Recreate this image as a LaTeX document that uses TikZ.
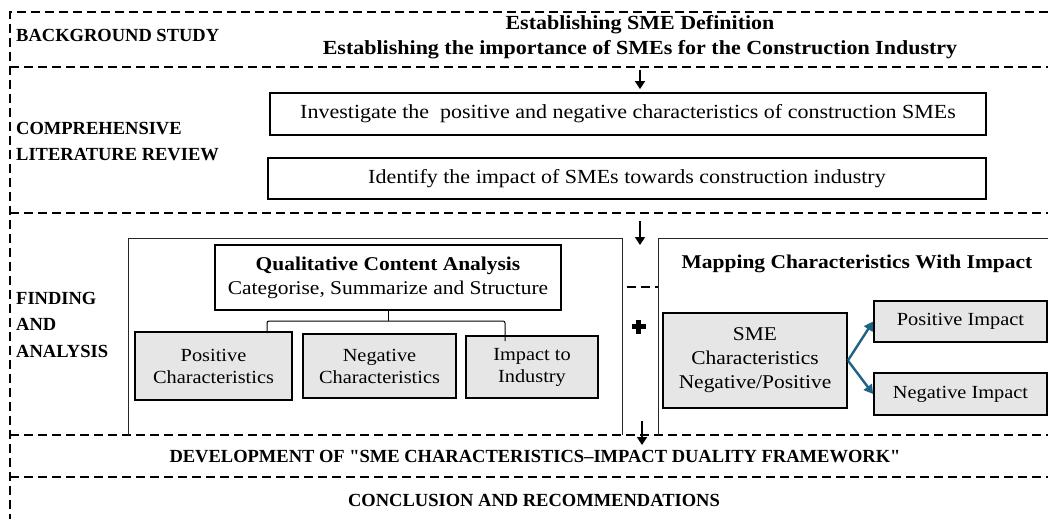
\documentclass[tikz,border=0pt]{standalone}
\usepackage{fontspec}
\setmainfont{Liberation Serif}[FakeStretch=1.1]
\newfontfamily\labelfont{Liberation Serif}
\usetikzlibrary{arrows.meta,shadows}
\definecolor{boxgray}{HTML}{E6E6E6}
\definecolor{linkteal}{HTML}{1E6383}
\begin{document}
\begin{tikzpicture}[x=1pt,y=-1pt,
  sep/.style={line width=1.4pt, dash pattern=on 9pt off 5pt},
  frame/.style={line width=0.9pt, draw=black!85},
  soft/.style={drop shadow={shadow xshift=1.2pt, shadow yshift=-1.2pt, fill=black!35, opacity=0.6}},
  stage/.style={font=\labelfont\bfseries\fontsize{18.5}{26.5}\selectfont, anchor=west, align=left, inner sep=0pt},
  banner/.style={font=\labelfont\bfseries\fontsize{18.5}{22}\selectfont, inner sep=0pt},
  task/.style={draw, line width=1.8pt, fill=white, soft, inner sep=0pt, font=\fontsize{20}{24}\selectfont},
  cat/.style={draw, line width=1.8pt, fill=boxgray, soft, inner sep=0pt, align=center, font=\fontsize{18.5}{22}\selectfont},
  flow/.style={line width=1.6pt, -{Triangle[length=8pt,width=10pt]}},
  link/.style={line width=2.4pt, draw=linkteal, -{Triangle[length=9pt,width=10pt]}},
]
\useasboundingbox (0,0) rectangle (1048,519);

% stage separators and outer frame
\draw[sep] (1048,12) -- (10,12) -- (10,519);
\foreach \y in {67,213,435,477} \draw[sep] (10,\y) -- (1048,\y);

% stage labels
\node[stage] (bg) at (16,35) {BACKGROUND STUDY};
\node[stage] (clr) at (16,141.5) {COMPREHENSIVE\\LITERATURE REVIEW};
\node[stage] (fa) at (16,324.5) {FINDING\\AND\\ANALYSIS};

% background study
\node[font=\bfseries\fontsize{20}{25}\selectfont, align=center, inner sep=0pt] (bgt) at (640,37.5)
  {Establishing SME Definition\\Establishing the importance of SMEs for the Construction Industry};

% literature review
\node[task, minimum width=716pt, minimum height=42pt] (inv) at (628,114)
  {Investigate the~ positive and negative characteristics of construction SMEs};
\node[task, minimum width=718pt, minimum height=41pt] (idt) at (627,178.5)
  {Identify the impact of SMEs towards construction industry};

% finding and analysis: content analysis panel
\draw[frame] (128,435) -- (128,238) -- (622,238) -- (622,435);
\node[draw, line width=1.8pt, fill=white, soft, minimum width=346pt, minimum height=65pt, inner sep=0pt,
      align=center, font=\fontsize{19.5}{24}\selectfont] (qca) at (388,277.5)
  {\textbf{Qualitative Content Analysis}\\Categorise, Summarize and Structure};
\node[cat, minimum width=157pt, minimum height=68pt] (pos) at (213.5,366) {Positive\\Characteristics};
\node[cat, minimum width=153pt, minimum height=64pt] (neg) at (379.5,366) {Negative\\Characteristics};
\node[cat, minimum width=132pt, minimum height=62pt] (imp) at (532,367) {Impact to\\Industry};
\coordinate (bl) at (267,321);
\coordinate (br) at (505,321);
\draw[line width=1pt] (qca.south) -- (qca.south |- bl);
\draw[line width=1pt, rounded corners=2pt] ([yshift=-2pt]pos.north -| bl) -- (bl) -- (br) -- ([yshift=-6pt]br |- imp.north);

% finding and analysis: mapping panel
\draw[frame] (658,435) -- (658,238) -- (1048,238);
\draw[sep] (627,287) -- (658,287);
\node[font=\bfseries\fontsize{19.5}{23}\selectfont, inner sep=0pt] (map) at (857,264) {Mapping Characteristics With Impact};
\node[cat, minimum width=184pt, minimum height=95pt, font=\fontsize{19.5}{24}\selectfont] (sme) at (755,360.5)
  {SME\\Characteristics\\Negative/Positive};
\node[cat, minimum width=173pt, minimum height=41pt] (posi) at (960.5,321.5) {Positive Impact};
\node[cat, minimum width=173pt, minimum height=42pt] (negi) at (960.5,394) {Negative Impact};
\draw[link] (sme.east) -- (posi.west);
\draw[link] (sme.east) -- (negi.west);

% plus sign between the panels
\fill (636,319.5) rectangle (641,333.5);
\fill (631.5,324) rectangle (645.5,329);

% flow arrows between stages
\coordinate (a1) at (640,70);
\draw[flow, shorten >=3pt] (a1) -- (a1 |- inv.north);
\coordinate (a2s) at (640,221);
\coordinate (a2e) at (640,245);
\draw[flow] (a2s) -- (a2e);
\coordinate (a3s) at (642,421);
\coordinate (a3e) at (642,445);
\draw[flow] (a3s) -- (a3e);

% closing stages
\node[banner] (dev) at (535,457) {DEVELOPMENT OF "SME CHARACTERISTICS–IMPACT DUALITY FRAMEWORK"};
\node[banner] (conc) at (534,500) {CONCLUSION AND RECOMMENDATIONS};
\end{tikzpicture}
\end{document}
